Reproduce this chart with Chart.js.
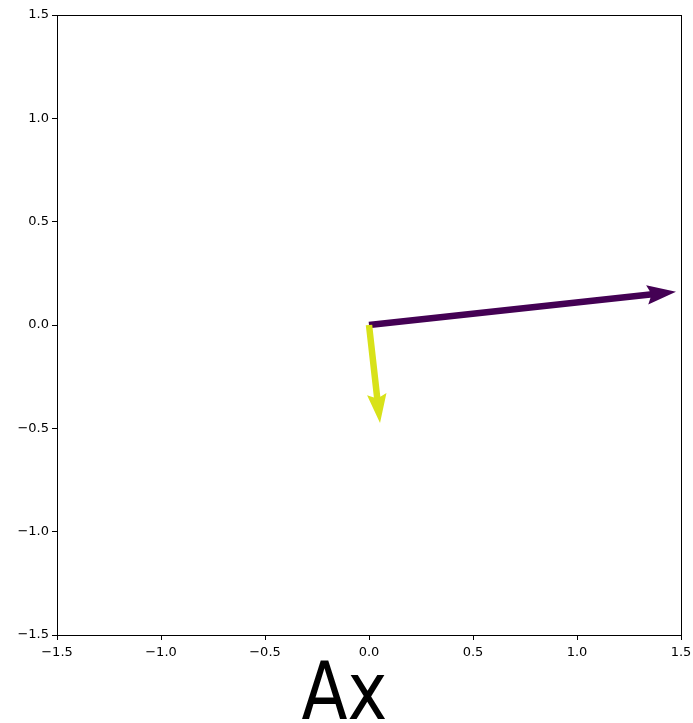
<!DOCTYPE html>
<html>
<head>
<meta charset="utf-8">
<script src="https://cdn.jsdelivr.net/npm/chart.js@4"></script>
<style>
  html, body { margin: 0; padding: 0; background: #fff; }
  #wrap { width: 693px; height: 723px; }
</style>
</head>
<body>
<div id="wrap"><canvas id="quiver" width="693" height="723"></canvas></div>
<script>
// ── data ──
const originX = [0, 0];
const originY = [0, 0];
const vecU = [1.476, 0.053];
const vecV = [0.161, -0.474];
const arrowColors = ['#440154', '#d8e219'];
const tickValues = [-1.5, -1.0, -0.5, 0.0, 0.5, 1.0, 1.5];
const axisLabel = 'Ax';

const FONT = "'DejaVu Sans', sans-serif";

function fmt(v) {
  const s = Math.abs(v).toFixed(1);
  return v < 0 ? '\u2212' + s : s;
}

// arrows drawn like matplotlib quiver, through the chart scales
const quiverPlugin = {
  id: 'quiver',
  afterDatasetsDraw(chart) {
    const { ctx, scales: { x, y } } = chart;
    const w = 6.5, headLen = 29, headAxis = 26, headHalf = 9.75;
    for (let i = 0; i < vecU.length; i++) {
      const x0 = x.getPixelForValue(originX[i]);
      const y0 = y.getPixelForValue(originY[i]);
      const x1 = x.getPixelForValue(originX[i] + vecU[i]);
      const y1 = y.getPixelForValue(originY[i] + vecV[i]);
      const len = Math.hypot(x1 - x0, y1 - y0);
      const ang = Math.atan2(y1 - y0, x1 - x0);
      ctx.save();
      ctx.translate(x0, y0);
      ctx.rotate(ang);
      ctx.beginPath();
      ctx.moveTo(0, -w / 2);
      ctx.lineTo(len - headAxis, -w / 2);
      ctx.lineTo(len - headLen, -headHalf);
      ctx.lineTo(len, 0);
      ctx.lineTo(len - headLen, headHalf);
      ctx.lineTo(len - headAxis, w / 2);
      ctx.lineTo(0, w / 2);
      ctx.closePath();
      ctx.fillStyle = arrowColors[i];
      ctx.fill();
      ctx.restore();
    }
  },
  afterDraw(chart) {
    const { ctx, chartArea: a } = chart;
    ctx.save();
    ctx.strokeStyle = '#000';
    ctx.lineWidth = 1;
    ctx.strokeRect(Math.round(a.left) + 0.5, Math.round(a.top) + 0.5,
      Math.round(a.right - a.left), Math.round(a.bottom - a.top));
    // big x-axis label, slightly condensed like the reference
    ctx.fillStyle = '#000';
    ctx.font = '81px ' + FONT;
    ctx.textAlign = 'center';
    ctx.textBaseline = 'alphabetic';
    ctx.translate(344.5, 719);
    ctx.scale(0.83, 1);
    ctx.fillText(axisLabel, 0, 0);
    ctx.restore();
  }
};

const axisCommon = {
  type: 'linear',
  min: tickValues[0],
  max: tickValues[tickValues.length - 1],
  afterBuildTicks(scale) {
    scale.ticks = tickValues.map(v => ({ value: v }));
  },
  ticks: {
    color: '#000',
    font: { family: FONT, size: 13 },
    padding: 3,
    maxRotation: 0,
    autoSkip: false,
    callback: v => fmt(v),
  },
  grid: {
    drawOnChartArea: false,
    drawTicks: true,
    tickLength: 5,
    color: '#000',
  },
  border: { display: true, color: '#000' },
};

new Chart(document.getElementById('quiver'), {
  type: 'scatter',
  data: {
    datasets: [{
      data: vecU.map((u, i) => ({ x: originX[i] + u, y: originY[i] + vecV[i] })),
      pointRadius: 0,
      showLine: false,
    }],
  },
  options: {
    responsive: false,
    animation: false,
    layout: { padding: { left: 0, right: 12, top: 15, bottom: 0 } },
    plugins: { legend: { display: false }, tooltip: { enabled: false } },
    scales: {
      x: Object.assign({}, axisCommon, {
        position: 'bottom',
        ticks: Object.assign({}, axisCommon.ticks, { padding: 5 }),
        afterFit(scale) {
          scale.height = 88;
          scale.paddingLeft = 0;
          scale.paddingRight = 0;
        },
      }),
      y: Object.assign({}, axisCommon, {
        position: 'left',
        afterFit(scale) {
          scale.width = 57;
          scale.paddingTop = 0;
          scale.paddingBottom = 0;
        },
      }),
    },
  },
  plugins: [quiverPlugin],
});
</script>
</body>
</html>
